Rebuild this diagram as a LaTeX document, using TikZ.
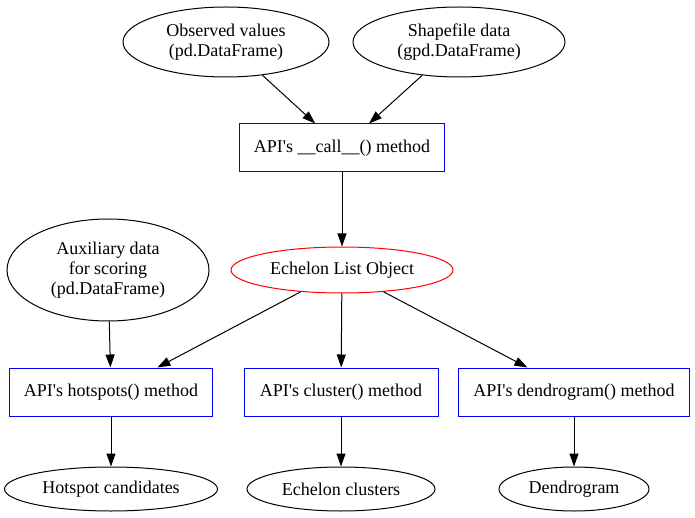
\documentclass[tikz,border=0pt]{standalone}
\usepackage{fontspec}
\setmainfont{Liberation Serif}
\usetikzlibrary{arrows.meta, shapes.geometric}
\newcommand{\apo}{\textquotesingle}

\begin{document}
\begin{tikzpicture}[x=1pt, y=-1pt, >={Triangle[length=13pt, width=9pt]},
   every node/.style={font=\fontsize{18}{20}\selectfont, align=center, inner sep=0pt},
   data/.style={ellipse, draw, line width=1pt, minimum height=70pt},
   result/.style={ellipse, draw, line width=1pt, minimum height=44pt},
   method/.style={rectangle, draw=blue, line width=1pt, minimum height=48pt}]
   \useasboundingbox (0,0) rectangle (695,518);

   \node[data, minimum width=206pt] (obs) at (226,42) {Observed values\\(pd.DataFrame)};
   \node[data, minimum width=212pt] (shp) at (459,42) {Shapefile data\\(gpd.DataFrame)};
   \node[method, minimum width=205pt] (call) at (342,148) {API\apo s \_\_call\_\_() method};
   \node[ellipse, draw=red, line width=1pt, minimum width=222pt, minimum height=46pt] (els) at (342,270) {Echelon List Object};
   \node[data, minimum width=202pt, minimum height=102pt] (aux) at (108,270) {Auxiliary data\\for scoring\\(pd.DataFrame)};

   \node[method, minimum width=203pt] (hot) at (111,392) {API\apo s hotspots() method};
   \node[method, minimum width=194pt] (clu) at (341,392) {API\apo s cluster() method};
   \node[method, minimum width=231pt] (den) at (574,392) {API\apo s dendrogram() method};

   \node[result, minimum width=213pt] (hotc) at (111,489) {Hotspot candidates};
   \node[result, minimum width=188pt] (cluc) at (341,489) {Echelon clusters};
   \node[result, minimum width=150pt] (denc) at (574,489) {Dendrogram};

   \path[->, line width=1pt] (obs) edge (call);
   \path[->, line width=1pt] (shp) edge (call);
   \path[->, line width=1pt] (call) edge (els);
   \path[->, line width=1pt] (aux) edge (hot);
   \path[->, line width=1pt] (els) edge (hot);
   \path[->, line width=1pt] (els) edge (clu);
   \path[->, line width=1pt] (els) edge (den);
   \path[->, line width=1pt] (hot) edge (hotc);
   \path[->, line width=1pt] (clu) edge (cluc);
   \path[->, line width=1pt] (den) edge (denc);
\end{tikzpicture}
\end{document}
